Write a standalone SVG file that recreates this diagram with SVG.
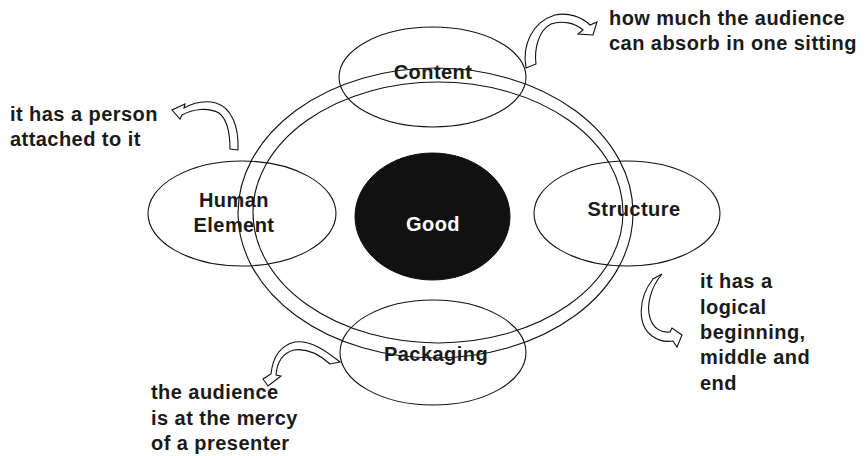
<svg xmlns="http://www.w3.org/2000/svg" width="865" height="456" viewBox="0 0 865 456">
  <style>
    .ring { fill: none; stroke: #111; stroke-width: 1.1; }
    .node { fill: none; stroke: #111; stroke-width: 1.1; }
    .core { fill: #111; stroke: #111; stroke-width: 1; }
    .arrow { fill: #fff; stroke: #111; stroke-width: 1.1; stroke-linejoin: miter; }
    text { font-family: "Liberation Sans", Arial, Helvetica, sans-serif; font-weight: bold; font-size: 20px; letter-spacing: 0.45px; fill: #1a1a1a; }
    .label { text-anchor: middle; }
    .core-label { text-anchor: middle; fill: #fff; }
  </style>

  <rect width="865" height="456" fill="#fff"/>

  <!-- double ring around the centre -->
  <g id="ring">
    <ellipse class="ring" cx="435.5" cy="213" rx="197.5" ry="145"/>
    <ellipse class="ring" cx="438" cy="212.5" rx="185" ry="130.5"/>
  </g>

  <g id="good">
    <ellipse class="core" cx="432.5" cy="216.5" rx="77.5" ry="63.5"/>
    <text class="core-label" x="433" y="231">Good</text>
  </g>

  <g id="content">
    <ellipse class="node" cx="432.5" cy="77" rx="93.5" ry="50"/>
    <text class="label" x="433" y="79">Content</text>
  </g>

  <g id="human-element">
    <ellipse class="node" cx="242" cy="213.5" rx="94" ry="52.5"/>
    <text class="label" x="234" y="207">Human</text>
    <text class="label" x="234" y="232">Element</text>
  </g>

  <g id="structure">
    <ellipse class="node" cx="627" cy="213.5" rx="93" ry="52.5"/>
    <text class="label" x="634" y="216">Structure</text>
  </g>

  <g id="packaging">
    <ellipse class="node" cx="433" cy="352.5" rx="93" ry="52.5"/>
    <text class="label" x="436" y="361">Packaging</text>
  </g>

  <!-- curved block arrows pointing to the notes -->
  <g id="connectors">
    <path class="arrow" d="M526,68 C522,45 532,22 555,15 C568,12 582,17 590,25 L597,22 L593,35 L578,34 L583,30 C575,23 562,20 551,24 C539,30 534,48 536,64 Z"/>
    <path class="arrow" d="M238,150 C239,127 232,108 216,103 C205,100 193,103 184,108 L185,104 L172,110 L180,119 L182,115 C193,109 208,107 219,113 C228,120 230,135 230,149 Z"/>
    <path class="arrow" d="M653,279 C638,298 637,325 652,336 C659,341 667,342 673,341 L677,347 L682,335 L672,328 L670,332 C661,333 653,328 650,318 C646,305 651,287 662,274 Z"/>
    <path class="arrow" d="M340,362 C325,350 310,340 295,342 C282,345 273,355 271,374 L263,379 L268,386 L281,376 L276,375 C277,362 283,353 294,350 C308,348 320,355 330,364 Z"/>
  </g>

  <!-- notes -->
  <g id="note-content">
    <text x="609" y="25">how much the audience</text>
    <text x="609" y="50">can absorb in one sitting</text>
  </g>
  <g id="note-human">
    <text x="10" y="121">it has a person</text>
    <text x="10" y="146">attached to it</text>
  </g>
  <g id="note-structure">
    <text x="700" y="288">it has a</text>
    <text x="700" y="314">logical</text>
    <text x="700" y="339">beginning,</text>
    <text x="700" y="364">middle and</text>
    <text x="700" y="390">end</text>
  </g>
  <g id="note-packaging">
    <text x="151" y="399">the audience</text>
    <text x="151" y="425">is at the mercy</text>
    <text x="151" y="450">of a presenter</text>
  </g>
</svg>
